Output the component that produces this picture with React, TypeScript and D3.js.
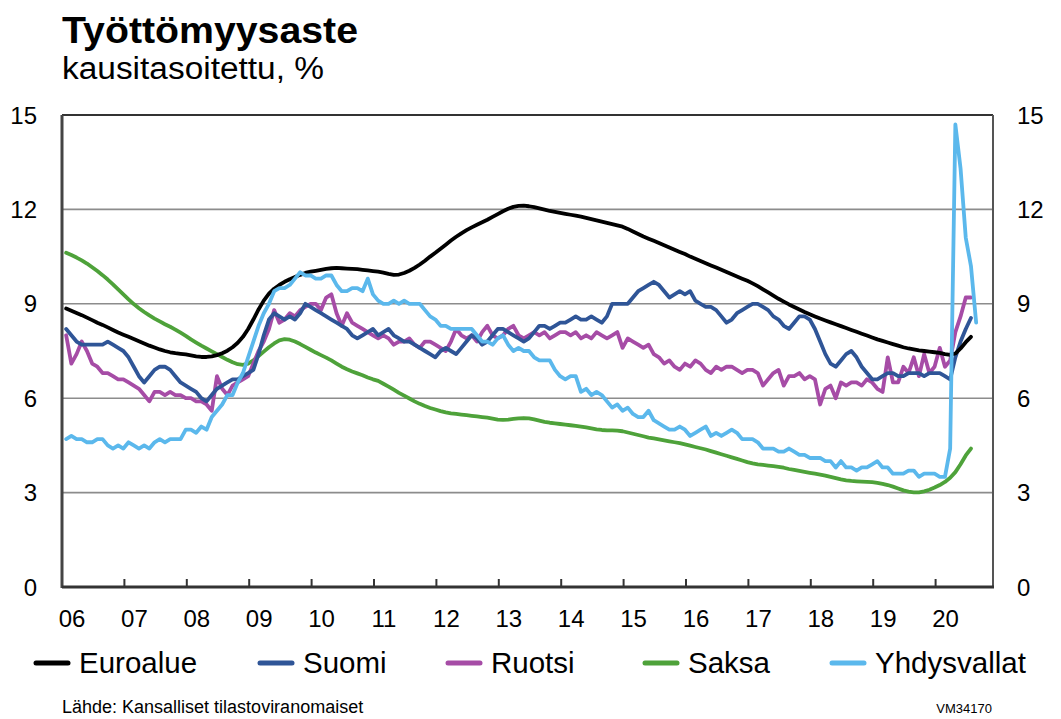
import React from 'react'
import * as d3 from 'd3'

// monthly values, Jan 2006 ->
const euroalue = [
  8.85, 8.78, 8.71, 8.64, 8.56, 8.48, 8.40, 8.33, 8.25, 8.17, 8.09, 8.02,
  7.95, 7.88, 7.81, 7.74, 7.67, 7.61, 7.55, 7.50, 7.46, 7.43, 7.41, 7.39,
  7.36, 7.33, 7.31, 7.31, 7.33, 7.37, 7.43, 7.51, 7.62, 7.76, 7.95, 8.20,
  8.50, 8.82, 9.10, 9.32, 9.48, 9.60, 9.70, 9.78, 9.85, 9.92, 9.98, 10.02,
  10.05, 10.08, 10.11, 10.13, 10.14, 10.13, 10.12, 10.11, 10.10, 10.08, 10.06, 10.04,
  10.02, 9.99, 9.95, 9.92, 9.93, 9.98, 10.05, 10.14, 10.25, 10.37, 10.50, 10.62,
  10.75, 10.88, 11.01, 11.13, 11.24, 11.34, 11.43, 11.51, 11.59, 11.67, 11.76, 11.85,
  11.94, 12.02, 12.08, 12.11, 12.12, 12.10, 12.07, 12.03, 11.99, 11.95, 11.92, 11.89,
  11.86, 11.83, 11.80, 11.77, 11.73, 11.69, 11.65, 11.61, 11.57, 11.53, 11.49, 11.45,
  11.38, 11.30, 11.22, 11.14, 11.07, 11.00, 10.93, 10.86, 10.79, 10.72, 10.65, 10.58,
  10.50, 10.43, 10.36, 10.29, 10.22, 10.15, 10.08, 10.01, 9.94, 9.87, 9.80, 9.73,
  9.65, 9.56, 9.46, 9.36, 9.26, 9.16, 9.07, 8.98, 8.90, 8.82, 8.74, 8.67,
  8.60, 8.53, 8.47, 8.41, 8.35, 8.29, 8.23, 8.17, 8.11, 8.05, 7.99, 7.93,
  7.87, 7.82, 7.77, 7.72, 7.67, 7.62, 7.58, 7.55, 7.52, 7.50, 7.48, 7.46,
  7.44, 7.40, 7.38, 7.42, 7.58, 7.78, 7.95,
]

const suomi = [
  8.2, 8.0, 7.8, 7.7, 7.7, 7.7, 7.7, 7.7, 7.8, 7.7, 7.6, 7.5,
  7.3, 7.0, 6.7, 6.5, 6.7, 6.9, 7.0, 7.0, 6.9, 6.7, 6.5, 6.4,
  6.3, 6.2, 6.0, 5.9, 6.1, 6.3, 6.4, 6.5, 6.6, 6.6, 6.7, 6.8,
  6.9, 7.4, 8.0, 8.5, 8.7, 8.6, 8.5, 8.6, 8.5, 8.7, 9.0, 8.9,
  8.8, 8.7, 8.6, 8.5, 8.4, 8.3, 8.2, 8.0, 7.9, 8.0, 8.1, 8.2,
  8.0, 8.1, 8.2, 8.0, 7.9, 7.8, 7.8, 7.7, 7.6, 7.5, 7.4, 7.3,
  7.5, 7.6, 7.5, 7.4, 7.6, 7.8, 8.0, 7.9, 7.7, 7.8, 8.0, 8.2,
  8.2, 8.1, 8.0, 7.9, 7.8, 7.9, 8.1, 8.3, 8.3, 8.2, 8.3, 8.4,
  8.4, 8.5, 8.6, 8.5, 8.5, 8.6, 8.5, 8.4, 8.6, 9.0, 9.0, 9.0,
  9.0, 9.2, 9.4, 9.5, 9.6, 9.7, 9.6, 9.4, 9.2, 9.3, 9.4, 9.3,
  9.4, 9.1, 9.0, 8.9, 8.9, 8.8, 8.6, 8.4, 8.5, 8.7, 8.8, 8.9,
  9.0, 9.0, 8.9, 8.8, 8.6, 8.5, 8.3, 8.2, 8.4, 8.6, 8.6, 8.5,
  8.2, 7.8, 7.4, 7.1, 7.0, 7.2, 7.4, 7.5, 7.3, 7.0, 6.8, 6.6,
  6.6, 6.7, 6.8, 6.8, 6.7, 6.7, 6.8, 6.8, 6.8, 6.7, 6.8, 6.8,
  6.8, 6.7, 6.6, 7.3, 7.8, 8.2, 8.55,
]

const ruotsi = [
  8.0, 7.1, 7.4, 7.8, 7.5, 7.1, 7.0, 6.8, 6.8, 6.7, 6.6, 6.6,
  6.5, 6.4, 6.3, 6.1, 5.9, 6.2, 6.2, 6.1, 6.2, 6.1, 6.1, 6.0,
  6.0, 5.9, 5.9, 5.8, 5.6, 6.7, 6.3, 6.1, 6.4, 6.5, 6.6, 6.7,
  7.1, 7.5, 7.8, 8.2, 8.8, 8.4, 8.5, 8.7, 8.6, 8.8, 8.9, 9.0,
  9.0, 8.8, 9.2, 9.3, 8.7, 8.3, 8.7, 8.4, 8.3, 8.2, 8.1, 8.0,
  7.9, 8.0, 7.9, 7.7, 7.8, 7.8, 7.9, 7.7, 7.6, 7.8, 7.8, 7.7,
  7.6, 7.5, 7.8, 8.2, 8.0, 7.9, 8.0, 7.8, 8.1, 8.3, 8.0, 7.9,
  8.0, 8.2, 8.3, 8.0, 7.9, 8.0, 8.1, 8.0, 8.1, 7.9, 8.0, 8.1,
  8.1, 8.0, 8.1, 7.9, 8.0, 7.9, 8.1, 8.0, 7.9, 8.0, 8.1, 7.6,
  7.9, 7.8, 7.7, 7.6, 7.7, 7.4, 7.3, 7.1, 7.2, 7.0, 6.9, 7.1,
  7.0, 7.2, 7.1, 6.9, 6.8, 7.0, 6.9, 7.0, 7.0, 6.9, 6.8, 6.9,
  6.9, 6.8, 6.4, 6.6, 6.8, 6.9, 6.4, 6.7, 6.7, 6.8, 6.6, 6.7,
  6.6, 5.8, 6.3, 6.4, 6.0, 6.5, 6.4, 6.5, 6.5, 6.4, 6.6, 6.5,
  6.3, 6.2, 7.3, 6.5, 6.5, 7.0, 6.8, 7.3, 6.7, 7.4, 6.8, 7.0,
  7.6, 7.0, 7.2, 8.1, 8.6, 9.2, 9.2,
]

const saksa = [
  10.62, 10.55, 10.47, 10.38, 10.28, 10.16, 10.04, 9.91, 9.77, 9.62, 9.46, 9.30,
  9.14, 8.99, 8.86, 8.74, 8.63, 8.53, 8.44, 8.35, 8.27, 8.18, 8.08, 7.98,
  7.87, 7.77, 7.67, 7.58, 7.49, 7.40, 7.31, 7.22, 7.14, 7.08, 7.06, 7.10,
  7.20, 7.34, 7.48, 7.62, 7.74, 7.84, 7.88, 7.86, 7.80, 7.72, 7.63, 7.54,
  7.45, 7.37, 7.29, 7.20, 7.10, 7.00, 6.92, 6.85, 6.79, 6.73, 6.66, 6.60,
  6.55, 6.46, 6.37, 6.27, 6.17, 6.08, 5.99, 5.90, 5.82, 5.75, 5.69, 5.64,
  5.59, 5.55, 5.52, 5.50, 5.48, 5.46, 5.44, 5.42, 5.40, 5.38, 5.35, 5.32,
  5.31, 5.32, 5.34, 5.36, 5.37, 5.36, 5.33, 5.29, 5.25, 5.22, 5.20, 5.18,
  5.16, 5.14, 5.12, 5.10, 5.07, 5.04, 5.01, 4.99, 4.98, 4.98, 4.97, 4.95,
  4.91, 4.87, 4.83, 4.79, 4.75, 4.72, 4.69, 4.66, 4.63, 4.60, 4.57, 4.53,
  4.49, 4.45, 4.41, 4.37, 4.32, 4.27, 4.22, 4.17, 4.12, 4.07, 4.02, 3.97,
  3.93, 3.90, 3.88, 3.86, 3.84, 3.82, 3.79, 3.75, 3.72, 3.69, 3.66, 3.63,
  3.60, 3.57, 3.54, 3.50, 3.46, 3.42, 3.39, 3.37, 3.36, 3.35, 3.34, 3.33,
  3.31, 3.28, 3.24, 3.19, 3.13, 3.07, 3.03, 3.01, 3.01, 3.04, 3.09, 3.16,
  3.24, 3.34, 3.47, 3.65, 3.90, 4.18, 4.40,
]

const yhdysvallat = [
  4.7, 4.8, 4.7, 4.7, 4.6, 4.6, 4.7, 4.7, 4.5, 4.4, 4.5, 4.4,
  4.6, 4.5, 4.4, 4.5, 4.4, 4.6, 4.7, 4.6, 4.7, 4.7, 4.7, 5.0,
  5.0, 4.9, 5.1, 5.0, 5.4, 5.6, 5.8, 6.1, 6.1, 6.5, 6.8, 7.3,
  7.8, 8.3, 8.7, 9.0, 9.4, 9.5, 9.5, 9.6, 9.8, 10.0, 9.9, 9.9,
  9.8, 9.8, 9.9, 9.9, 9.6, 9.4, 9.4, 9.5, 9.5, 9.4, 9.8, 9.3,
  9.1, 9.0, 9.0, 9.1, 9.0, 9.1, 9.0, 9.0, 9.0, 8.8, 8.6, 8.5,
  8.3, 8.3, 8.2, 8.2, 8.2, 8.2, 8.2, 8.0, 7.8, 7.8, 7.7, 7.9,
  8.0, 7.7, 7.5, 7.6, 7.5, 7.5, 7.3, 7.2, 7.2, 7.2, 6.9, 6.7,
  6.6, 6.7, 6.7, 6.2, 6.3, 6.1, 6.2, 6.1, 5.9, 5.7, 5.8, 5.6,
  5.7, 5.5, 5.4, 5.4, 5.6, 5.3, 5.2, 5.1, 5.0, 5.0, 5.1, 5.0,
  4.8, 4.9, 5.0, 5.1, 4.8, 4.9, 4.8, 4.9, 5.0, 4.9, 4.7, 4.7,
  4.7, 4.6, 4.4, 4.4, 4.4, 4.3, 4.3, 4.4, 4.3, 4.2, 4.2, 4.1,
  4.1, 4.1, 4.0, 4.0, 3.8, 4.0, 3.8, 3.8, 3.7, 3.8, 3.8, 3.9,
  4.0, 3.8, 3.8, 3.6, 3.6, 3.6, 3.7, 3.7, 3.5, 3.6, 3.6, 3.6,
  3.5, 3.5, 4.4, 14.7, 13.3, 11.1, 10.2, 8.4,
]

const series = [
  { name: 'Euroalue', values: euroalue, color: '#000000' },
  { name: 'Suomi', values: suomi, color: '#2f5597' },
  { name: 'Ruotsi', values: ruotsi, color: '#a64ca6' },
  { name: 'Saksa', values: saksa, color: '#4ea23a' },
  { name: 'Yhdysvallat', values: yhdysvallat, color: '#5bb8ec' },
]

// draw order (top-most last)
const drawOrder = ['Saksa', 'Ruotsi', 'Suomi', 'Euroalue', 'Yhdysvallat']

const yearLabels = ['06', '07', '08', '09', '10', '11', '12', '13', '14', '15', '16', '17', '18', '19', '20']
const yTicks = [0, 3, 6, 9, 12, 15]

const W = 1061
const H = 719
const left = 62
const right = 993
const top = 115
const bottom = 587

const font = 'Liberation Sans, Arial, sans-serif'

export default function App() {
  const x = d3.scaleLinear().domain([2006, 2006 + (right - left) / 62.4]).range([left, right])
  const y = d3.scaleLinear().domain([0, 15]).range([bottom, top])

  const line = d3
    .line<number>()
    .x((_, i) => x(2006 + (i + 0.8) / 12))
    .y((d) => y(d))

  const legendX = [36, 260, 448, 645, 832]

  return (
    <svg
      width={W}
      height={H}
      style={{ position: 'absolute', left: 0, top: 0, background: '#fff' }}
      fontFamily={font}
    >
      <text x={62} y={43} fontSize={36} fontWeight="bold" textLength={296} lengthAdjust="spacingAndGlyphs">
        Työttömyysaste
      </text>
      <text x={62} y={79} fontSize={31} textLength={262} lengthAdjust="spacingAndGlyphs">
        kausitasoitettu, %
      </text>

      {/* grid */}
      {yTicks.filter((t) => t > 0 && t < 15).map((t) => (
        <line key={t} x1={left} x2={right} y1={y(t)} y2={y(t)} stroke="#8c8c8c" strokeWidth={1.6} />
      ))}

      {/* y labels */}
      {yTicks.map((t) => (
        <g key={t}>
          <text x={37} y={y(t)} fontSize={24} textAnchor="end" dominantBaseline="central">
            {t}
          </text>
          <text x={1017} y={y(t)} fontSize={24} textAnchor="start" dominantBaseline="central">
            {t}
          </text>
        </g>
      ))}

      {/* lines */}
      {drawOrder.map((n) => {
        const s = series.find((d) => d.name === n)!
        return (
          <path
            key={n}
            d={line(s.values) || ''}
            fill="none"
            stroke={s.color}
            strokeWidth={3.8}
            strokeLinejoin="round"
            strokeLinecap="round"
          />
        )
      })}

      {/* frame */}
      <line x1={left} x2={right} y1={top} y2={top} stroke="#333" strokeWidth={2} />
      <line x1={right} x2={right} y1={top} y2={bottom} stroke="#555" strokeWidth={2} />
      <line x1={left} x2={left} y1={top} y2={bottom + 1} stroke="#444" strokeWidth={3} />
      <line x1={left} x2={right + 1} y1={bottom} y2={bottom} stroke="#333" strokeWidth={3} />

      {/* x ticks and labels */}
      {yearLabels.map((lab, i) => (
        <g key={lab}>
          {i > 0 && (
            <line x1={x(2006 + i)} x2={x(2006 + i)} y1={bottom} y2={bottom - 8} stroke="#333" strokeWidth={2} />
          )}
          <text x={x(2006 + i) + 10} y={627} fontSize={24} textAnchor="middle">
            {lab}
          </text>
        </g>
      ))}

      {/* legend */}
      {series.map((s, i) => (
        <g key={s.name}>
          <line
            x1={legendX[i]}
            x2={legendX[i] + 32}
            y1={663}
            y2={663}
            stroke={s.color}
            strokeWidth={5}
            strokeLinecap="round"
          />
          <text x={legendX[i] + 43} y={673} fontSize={29.5}>
            {s.name}
          </text>
        </g>
      ))}

      <text x={62} y={713} fontSize={18}>
        Lähde: Kansalliset tilastoviranomaiset
      </text>
      <text x={992} y={713} fontSize={13} textAnchor="end">
        VM34170
      </text>
    </svg>
  )
}
